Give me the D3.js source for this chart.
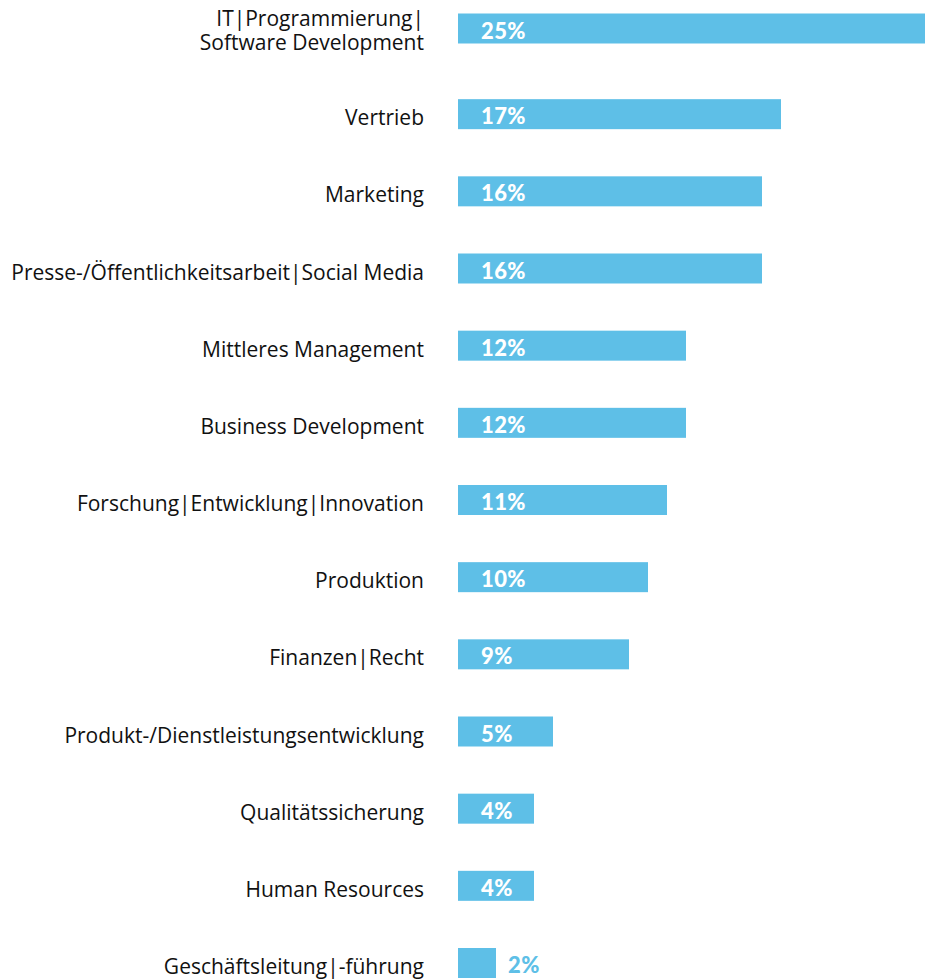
<!DOCTYPE html>
<html>
<head>
<meta charset="utf-8">
<script src="https://cdn.jsdelivr.net/npm/d3@7"></script>
<style>
  body { margin: 0; background: #fff; }
  .cat { font-family: "Open Sans", sans-serif; font-size: 21px; fill: #111; }
  .val { font-family: "Lato", sans-serif; font-weight: 900; font-size: 22px; letter-spacing: 0.4px; }
</style>
</head>
<body>
<svg id="chart"></svg>
<script>
// categories (multi-line labels split with \n)
const categories = [
    "IT|Programmierung|\nSoftware Development",
    "Vertrieb",
    "Marketing",
    "Presse-/Öffentlichkeitsarbeit|Social Media",
    "Mittleres Management",
    "Business Development",
    "Forschung|Entwicklung|Innovation",
    "Produktion",
    "Finanzen|Recht",
    "Produkt-/Dienstleistungsentwicklung",
    "Qualitätssicherung",
    "Human Resources",
    "Geschäftsleitung|-führung"
];
const shares = [25, 17, 16, 16, 12, 12, 11, 10, 9, 5, 4, 4, 2];

const width = 925, height = 980;
const barColor = "#5ebfe7";
const barH = 30;

const svg = d3.select("#chart")
    .attr("width", width)
    .attr("height", height);

const x = d3.scaleLinear()
    .domain([0, 25])
    .range([458, 933]);

const y = d3.scalePoint()
    .domain(categories)
    .range([37, 963]);

// rows with two-line labels sit a bit higher
function rowY(d) {
    return y(d) - (d.includes("\n") ? 8.5 : 0);
}

const rows = svg.selectAll(".row")
    .data(categories.map((c, i) => ({ cat: c, val: shares[i] })))
    .enter().append("g")
    .attr("class", "row")
    .attr("transform", d => `translate(0,${rowY(d.cat)})`);

rows.append("rect")
    .attr("x", x(0))
    .attr("y", -barH / 2)
    .attr("width", d => x(d.val) - x(0))
    .attr("height", barH)
    .attr("fill", barColor);

// category labels
rows.each(function(d) {
    const lines = d.cat.split("\n");
    const t = d3.select(this).append("text")
        .attr("class", "cat")
        .attr("text-anchor", "end")
        .attr("x", 424);
    lines.forEach((ln, i) => {
        t.append("tspan")
            .attr("x", 424)
            .attr("y", (i - (lines.length - 1) / 2) * 24 + (lines.length > 1 ? 1 : 3))
            .attr("dominant-baseline", "central")
            .text(ln);
    });
});

// value labels: inside the bar when it is wide enough, otherwise after it
rows.append("text")
    .attr("class", "val")
    .attr("x", d => d.val > 3 ? 481 : x(d.val) + 12)
    .attr("y", 1.5)
    .attr("dominant-baseline", "central")
    .attr("fill", d => d.val > 3 ? "#fff" : barColor)
    .text(d => d.val + "%");
</script>
</body>
</html>
